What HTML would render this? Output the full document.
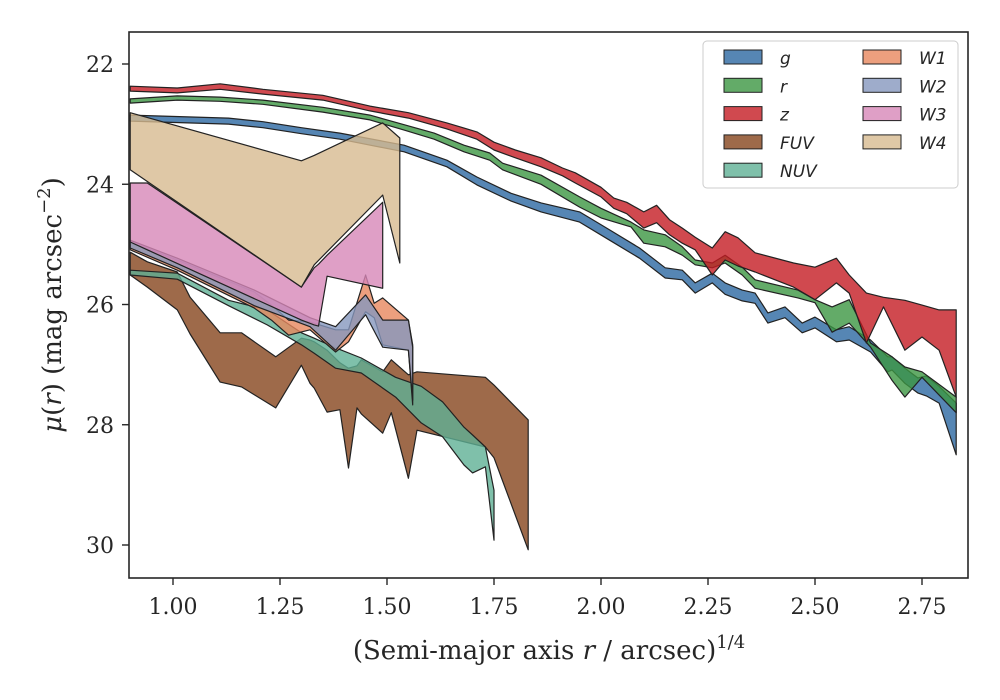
<!DOCTYPE html>
<html><head><meta charset="utf-8"><style>
html,body{margin:0;padding:0;background:#fff}
svg{display:block}
text{font-family:"DejaVu Serif","Liberation Serif",serif;fill:#262626}
.leg{font-family:"DejaVu Sans","Liberation Sans",sans-serif;font-style:italic;font-size:17px}
</style></head><body>
<svg id="chart" width="1000" height="700" viewBox="0 0 1000 700" xmlns="http://www.w3.org/2000/svg">
<rect width="1000" height="700" fill="#fff"/>
<defs><clipPath id="plotclip"><rect x="129" y="32" width="839" height="546"/></clipPath></defs>
<g id="bands" clip-path="url(#plotclip)"></g>
<g id="axes"></g>
<g id="legend"></g>
</svg>
<script>
const xTicks = [1.00, 1.25, 1.50, 1.75, 2.00, 2.25, 2.50, 2.75];
const xTickLabels = ["1.00","1.25","1.50","1.75","2.00","2.25","2.50","2.75"];
const yTicks = [22, 24, 26, 28, 30];
const yTickLabels = ["22","24","26","28","30"];

const gX = [0.90,1.13,1.21,1.30,1.39,1.54,1.64,1.71,1.79,1.86,1.95,2.02,2.09,2.15,2.19,2.22,2.26,2.29,2.33,2.36,2.39,2.43,2.47,2.50,2.55,2.58,2.63,2.67,2.68,2.71,2.74,2.76,2.79,2.83];
const gUpper = [22.85,22.90,22.96,23.06,23.15,23.35,23.60,23.88,24.15,24.31,24.46,24.76,25.06,25.39,25.43,25.64,25.48,25.64,25.76,25.81,26.14,26.04,26.31,26.21,26.42,26.37,26.59,26.87,26.87,27.06,27.22,27.19,27.36,27.64];
const gLower = [22.95,23.00,23.06,23.16,23.25,23.46,23.71,24.01,24.28,24.46,24.63,24.93,25.23,25.56,25.59,25.81,25.64,25.83,25.94,25.98,26.31,26.22,26.47,26.39,26.62,26.59,26.79,27.12,27.09,27.31,27.47,27.52,27.64,28.50];

const rX = [0.90,1.01,1.11,1.21,1.35,1.46,1.54,1.61,1.68,1.74,1.77,1.86,1.95,2.00,2.07,2.10,2.15,2.19,2.22,2.26,2.29,2.33,2.36,2.46,2.50,2.54,2.58,2.63,2.68,2.71,2.75,2.83];
const rUpper = [22.58,22.53,22.55,22.60,22.72,22.85,23.01,23.15,23.35,23.48,23.65,23.85,24.21,24.40,24.63,24.76,24.84,25.04,25.26,25.31,25.18,25.38,25.59,25.76,25.92,26.04,25.92,26.64,26.87,27.04,27.12,27.54];
const rLower = [22.65,22.60,22.62,22.67,22.80,22.93,23.10,23.25,23.46,23.60,23.76,24.00,24.38,24.56,24.71,24.98,25.04,25.18,25.34,25.39,25.31,25.51,25.73,25.89,25.97,26.46,26.31,26.71,27.26,27.54,27.21,27.80];

const zX = [0.90,1.01,1.11,1.21,1.35,1.46,1.55,1.64,1.71,1.75,1.80,1.86,1.91,1.94,2.00,2.03,2.06,2.10,2.13,2.16,2.19,2.22,2.26,2.29,2.32,2.36,2.45,2.50,2.55,2.58,2.62,2.66,2.71,2.75,2.79,2.83];
const zUpper = [22.37,22.40,22.33,22.42,22.52,22.70,22.81,22.98,23.13,23.30,23.43,23.56,23.73,23.81,24.05,24.23,24.30,24.46,24.35,24.59,24.73,24.88,25.06,24.79,24.89,25.14,25.31,25.38,25.23,25.51,25.81,25.88,25.93,26.01,26.09,26.09];
const zLower = [22.45,22.48,22.42,22.50,22.60,22.78,22.90,23.08,23.25,23.43,23.56,23.71,23.86,23.98,24.21,24.40,24.49,24.73,24.64,24.84,24.98,25.09,25.51,25.26,25.36,25.46,25.71,25.92,25.64,25.81,26.64,26.04,26.76,26.54,26.76,27.54];

const fuvX = [0.90,0.94,1.01,1.04,1.11,1.16,1.24,1.30,1.32,1.33,1.36,1.39,1.41,1.43,1.44,1.49,1.51,1.55,1.57,1.73,1.75,1.83];
const fuvUpper = [25.13,25.29,25.46,25.88,26.47,26.47,26.87,26.56,26.59,26.62,26.76,26.97,27.06,27.02,26.92,27.12,26.92,27.17,27.12,27.21,27.34,27.92];
const fuvLower = [25.51,25.71,26.09,26.49,27.29,27.37,27.72,27.01,27.31,27.39,27.79,27.75,28.72,27.72,27.82,28.14,27.80,28.89,28.09,28.37,28.55,30.08];

const nuvX = [0.90,1.01,1.13,1.22,1.30,1.33,1.38,1.44,1.52,1.58,1.63,1.68,1.70,1.73,1.75];
const nuvUpper = [25.43,25.48,25.93,26.09,26.47,26.56,26.72,26.89,27.21,27.36,27.62,28.04,28.17,28.37,29.09];
const nuvLower = [25.51,25.58,26.02,26.34,26.67,26.81,27.06,27.14,27.54,27.97,28.20,28.67,28.80,28.70,29.92];

const w1X = [0.90,1.01,1.19,1.23,1.27,1.32,1.38,1.41,1.45,1.47,1.49,1.55,1.56];
const w1Upper = [24.96,25.26,25.79,26.01,26.26,26.29,26.42,26.42,25.51,25.98,25.89,26.26,26.67];
const w1Lower = [25.09,25.43,26.06,26.26,26.51,26.42,26.79,26.62,26.12,26.22,26.67,26.76,27.67];

const w2X = [0.90,1.01,1.19,1.32,1.38,1.45,1.49,1.55,1.56];
const w2Upper = [24.93,25.23,25.76,26.22,26.37,25.84,26.26,26.26,26.71];
const w2Lower = [25.06,25.39,26.02,26.37,26.76,26.17,26.71,26.76,27.59];

const w3X = [0.90,0.94,1.30,1.33,1.34,1.36,1.49];
const w3Upper = [23.98,23.98,25.71,25.39,25.33,25.18,24.30];
const w3Lower = [24.96,25.09,26.26,26.34,26.36,25.53,25.73];

const w4X = [0.90,1.30,1.33,1.49,1.53];
const w4Upper = [22.81,23.61,23.52,22.98,23.23];
const w4Lower = [23.76,25.71,25.34,24.18,25.31];

const NS = "http://www.w3.org/2000/svg";
function sx(v){ return 173 + (v - 1.0) * 428; }
function sy(m){ return 64 + (m - 22) * 60.125; }
function mk(tag, attrs, parent){
  const el = document.createElementNS(NS, tag);
  for (const k in attrs) el.setAttribute(k, attrs[k]);
  parent.appendChild(el);
  return el;
}

const series = [
  {key:"g", x:gX, up:gUpper, lo:gLower, fill:"#2c68a1"},
  {key:"r", x:rX, up:rUpper, lo:rLower, fill:"#3c9642"},
  {key:"z", x:zX, up:zUpper, lo:zLower, fill:"#c41c23"},
  {key:"FUV", x:fuvX, up:fuvUpper, lo:fuvLower, fill:"#86451d"},
  {key:"NUV", x:nuvX, up:nuvUpper, lo:nuvLower, fill:"#5fb095"},
  {key:"W1", x:w1X, up:w1Upper, lo:w1Lower, fill:"#e7875e"},
  {key:"W2", x:w2X, up:w2Upper, lo:w2Lower, fill:"#8697be"},
  {key:"W3", x:w3X, up:w3Upper, lo:w3Lower, fill:"#d787b8"},
  {key:"W4", x:w4X, up:w4Upper, lo:w4Lower, fill:"#d7ba90"}
];

const bands = document.getElementById("bands");
series.forEach(s => {
  const pts = [];
  for (let i = 0; i < s.x.length; i++) pts.push(sx(s.x[i]).toFixed(1) + "," + sy(s.up[i]).toFixed(1));
  for (let i = s.x.length - 1; i >= 0; i--) pts.push(sx(s.x[i]).toFixed(1) + "," + sy(s.lo[i]).toFixed(1));
  const p = mk("polygon", {points: pts.join(" "), fill: s.fill, "fill-opacity": "0.8", stroke: "#222", "stroke-width": "1.2", "stroke-linejoin": "round"}, bands);
  
  
});

const axes = document.getElementById("axes");
const frame = mk("rect", {x:129, y:32, width:839, height:546, fill:"none", stroke:"#262626", "stroke-width":"1.6"}, axes);



xTicks.forEach((t, i) => {
  const x = sx(t);
  const tk = mk("line", {x1:x, x2:x, y1:578, y2:585, stroke:"#262626", "stroke-width":"1.4"}, axes);
  
  
  const lb = mk("text", {x:x, y:614, "text-anchor":"middle", "font-size":"22"}, axes);
  lb.textContent = xTickLabels[i];
  
  
});
yTicks.forEach((t, i) => {
  const y = sy(t);
  const tk = mk("line", {x1:122, x2:129, y1:y, y2:y, stroke:"#262626", "stroke-width":"1.4"}, axes);
  
  
  const lb = mk("text", {x:114, y:y + 8, "text-anchor":"end", "font-size":"22"}, axes);
  lb.textContent = yTickLabels[i];
  
  
});

const xt = mk("text", {x:549, y:659, "text-anchor":"middle", "font-size":"26"}, axes);
xt.innerHTML = '(Semi-major axis <tspan font-style="italic">r</tspan> / arcsec)<tspan dy="-11" font-size="18">1/4</tspan>';



const yt = mk("text", {x:0, y:0, "text-anchor":"middle", "font-size":"26", transform:"translate(61,305) rotate(-90)"}, axes);
yt.innerHTML = '<tspan font-style="italic">μ</tspan>(<tspan font-style="italic">r</tspan>) (mag arcsec<tspan dy="-11" font-size="18">−2</tspan><tspan dy="11">)</tspan>';



const legend = document.getElementById("legend");
const lbox = mk("rect", {x:703, y:41, width:255, height:147, rx:4, fill:"#fff", "fill-opacity":"0.8", stroke:"#cccccc", "stroke-width":"1"}, legend);


series.forEach((s, i) => {
  const col = i < 5 ? 0 : 1;
  const row = i < 5 ? i : i - 5;
  const px = col === 0 ? 724 : 863;
  const py = 50 + row * 28.3;
  const entry = mk("g", {}, legend);
  
  
  mk("rect", {x:px, y:py, width:38, height:14, fill:s.fill, "fill-opacity":"0.8", stroke:"#222", "stroke-width":"1"}, entry);
  const t = mk("text", {x:px + 56, y:py + 14, class:"leg"}, entry);
  t.textContent = s.key;
});
</script>
</body></html>
